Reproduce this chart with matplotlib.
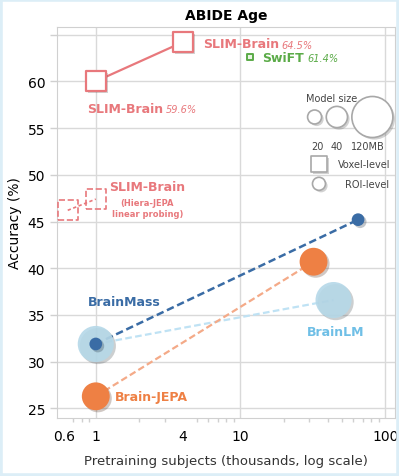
import matplotlib.pyplot as plt
import matplotlib.patheffects as pe
from matplotlib.patches import Rectangle
from matplotlib.ticker import FixedLocator, NullFormatter
import numpy as np

# pretraining subjects (thousands) and accuracy (%)
slim_x = [1, 4]
slim_y = [60.0, 64.2]
slim_lp_x = [0.64, 1.0]
slim_lp_y = [46.2, 47.4]
swift_x = [11.7]
swift_y = [62.6]
brainmass_x = [1, 65]
brainmass_y = [31.9, 45.2]
brainlm_x = [1, 44]
brainlm_y = [31.9, 36.6]
jepa_x = [1, 32]
jepa_y = [26.3, 40.7]

# model size (MB), mapped to marker area
brainmass_mb = 17
brainlm_mb = 97
jepa_mb = 63
legend_mb = [20, 40, 120]

xticks = [0.6, 1, 4, 10, 100]
xticklabels = ['0.6', '1', '4', '10', '100']
yticks = [25, 30, 35, 40, 45, 50, 55, 60, 65]

RED = '#e8787c'
GREEN = '#5bab48'
DBLUE = '#3a6ca5'
LBLUE = '#b5d8e8'
ORANGE = '#ee8044'


def area(mb):
    d = 2.32 * mb ** 0.6 * 0.72  # diameter px -> pt
    return d ** 2


def sq_area(px):
    return (px * 0.72) ** 2


shadow = [pe.SimplePatchShadow(offset=(1.5, -1.5), alpha=0.25), pe.Normal()]

fig = plt.figure(figsize=(3.99, 4.77), dpi=100)
fig.patches.append(Rectangle((0, 0), 1, 1, transform=fig.transFigure,
                             fill=False, ec='#dceef7', lw=4))
ax = fig.add_axes([0.143, 0.122, 0.847, 0.819])
ax.set_xscale('log')
ax.set_xlim(0.54, 117)
ax.set_ylim(24, 65.8)

# lines
ax.plot(slim_x, slim_y, color=RED, lw=1.6, zorder=2)
ax.plot(slim_lp_x, slim_lp_y, color=RED, lw=1.2, ls=(0, (2, 1.5)), zorder=2)
ax.plot(brainmass_x, brainmass_y, color=DBLUE, lw=1.8, ls=(0, (3, 1.5)), zorder=2)
ax.plot(brainlm_x, brainlm_y, color='#bfe2f4', lw=1.6, ls=(0, (3, 1.5)), zorder=2)
ax.plot(jepa_x, jepa_y, color='#f4aa88', lw=1.6, ls=(0, (3, 1.5)), zorder=2)

# markers
ax.scatter(slim_x, slim_y, s=sq_area(20), marker='s', facecolor='white', edgecolor=RED,
           lw=1.6, zorder=4, path_effects=shadow)
ax.scatter(slim_lp_x, slim_lp_y, s=sq_area(20), marker='s', facecolor='none',
           edgecolor=RED, lw=1.2, linestyle='--', zorder=4)
ax.scatter(swift_x, swift_y, s=sq_area(6), marker='s', facecolor='#e9f4e4',
           edgecolor=GREEN, lw=1.4, zorder=4)
ax.scatter(brainlm_x, brainlm_y, s=area(brainlm_mb), color=LBLUE, alpha=0.9, lw=0,
           zorder=3, path_effects=shadow)
ax.scatter(jepa_x, jepa_y, s=area(jepa_mb), color=ORANGE, lw=0, zorder=4,
           path_effects=shadow)
ax.scatter(brainmass_x, brainmass_y, s=area(brainmass_mb), color=DBLUE, lw=0, zorder=5,
           path_effects=shadow)


def name_pct(x, y, name, pct, color):
    t = ax.text(x, y, name, color=color, fontsize=9, fontweight='bold', va='center')
    ax.annotate(pct, xy=(1, 0.5), xycoords=t, xytext=(2, -0.5),
                textcoords='offset points', color=color, fontsize=7,
                style='italic', va='center')


# labels
name_pct(5.5, 64.0, 'SLIM-Brain', '64.5%', RED)
name_pct(14.2, 62.6, 'SwiFT', '61.4%', GREEN)
name_pct(0.87, 57.1, 'SLIM-Brain', '59.6%', RED)
ax.text(2.27, 48.8, 'SLIM-Brain', color=RED, fontsize=9, fontweight='bold',
        ha='center', va='center')
ax.text(2.27, 47.0, '(Hiera-JEPA', color=RED, fontsize=6, fontweight='bold',
        ha='center', va='center')
ax.text(2.27, 45.85, 'linear probing)', color=RED, fontsize=6, fontweight='bold',
        ha='center', va='center')
ax.text(0.885, 36.4, 'BrainMass', color=DBLUE, fontsize=9, fontweight='bold', va='center')
ax.text(29, 33.2, 'BrainLM', color='#6fbfe6', fontsize=9, fontweight='bold', va='center')
ax.text(1.36, 26.3, 'Brain-JEPA', color=ORANGE, fontsize=9, fontweight='bold', va='center')

# legend (drawn by hand)
lg = '#444444'
gray = '#a8a8a8'
ax.text(0.811, 0.819, 'Model size', transform=ax.transAxes, fontsize=7, color=lg,
        ha='center', va='center')
for xf, lx, mb, lab in zip([0.762, 0.828, 0.933], [0.769, 0.828, 0.92], legend_mb,
                           ['20', '40', '120MB']):
    ax.scatter([xf], [0.770], s=area(mb), transform=ax.transAxes, facecolor='white',
               edgecolor=gray, lw=1.2, zorder=6, path_effects=shadow)
    ax.text(lx, 0.697, lab, transform=ax.transAxes, fontsize=7, color=lg,
            ha='center', va='center')
ax.scatter([0.774], [0.650], s=sq_area(16), marker='s', transform=ax.transAxes,
           facecolor='white', edgecolor=gray, lw=1.2, zorder=6, path_effects=shadow)
ax.text(0.831, 0.650, 'Voxel-level', transform=ax.transAxes, fontsize=7, color=lg,
        va='center')
ax.scatter([0.775], [0.599], s=sq_area(13), transform=ax.transAxes,
           facecolor='white', edgecolor=gray, lw=1.2, zorder=6, path_effects=shadow)
ax.text(0.852, 0.599, 'ROI-level', transform=ax.transAxes, fontsize=7, color=lg,
        va='center')

# axes styling
ax.xaxis.set_major_locator(FixedLocator(xticks))
ax.set_xticklabels(xticklabels)
ax.xaxis.set_minor_formatter(NullFormatter())
ax.set_yticks(yticks)
ax.set_yticklabels([str(v) if v < 65 else '' for v in yticks])
ax.grid(True, which='major', color='#d9d9d9', lw=1, zorder=0)
for i, t in enumerate(xticks):
    if t in (0.6, 4):
        ax.xaxis.get_gridlines()[i].set_visible(False)
ax.tick_params(which='both', color='#d0d0d0', labelsize=10, length=5, width=1)
ax.tick_params(which='minor', length=3)
ax.tick_params(axis='x', which='major', length=0, pad=8)
for s in ax.spines.values():
    s.set_color('#d0d0d0')
ax.set_axisbelow(True)

ax.set_title('ABIDE Age', fontsize=10, fontweight='bold', pad=6)
ax.set_xlabel('Pretraining subjects (thousands, log scale)', fontsize=9.5, labelpad=8,
              color='#333333')
ax.set_ylabel('Accuracy (%)', fontsize=10, labelpad=4)

fig.savefig('out.png', dpi=100)
